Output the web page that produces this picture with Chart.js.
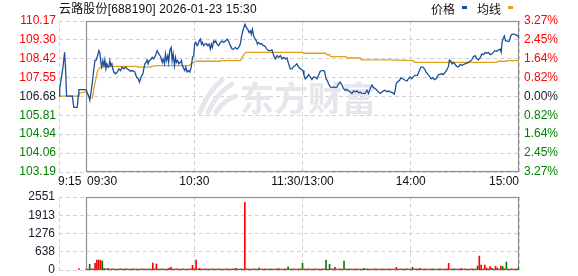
<!DOCTYPE html>
<html><head><meta charset="utf-8">
<script src="https://cdn.jsdelivr.net/npm/chart.js@4.4.1/dist/chart.umd.min.js"></script>
<style>
html,body{margin:0;padding:0;background:#fff;width:578px;height:276px;overflow:hidden;}
#wrap{position:relative;width:578px;height:276px;overflow:hidden;}
canvas{position:absolute;left:0;}
.t{position:absolute;font-size:12px;line-height:14px;color:#111;white-space:nowrap;font-family:"Liberation Sans","Noto Sans CJK SC",sans-serif;}
.mk{position:absolute;width:5px;height:3px;}
</style></head>
<body>
<div id="wrap">
<canvas id="vol" width="578" height="106" style="top:180px"></canvas>
<canvas id="price" width="578" height="190" style="top:0"></canvas>
<div class="t" id="title" style="left:59px;top:2px;letter-spacing:0.17px;"></div>
<div class="t" id="lg1" style="left:431px;top:3px;"></div>
<div class="mk" id="mk1" style="left:462px;top:6px;"></div>
<div class="t" id="lg2" style="left:477px;top:3px;"></div>
<div class="mk" id="mk2" style="left:508px;top:6px;"></div>
</div>
<script>
// ---------- data ----------
const stockName = "云路股份";
const stockCode = "688190";
const stampText = "2026-01-23 15:30";
const seriesNames = ["价格", "均线"];
const prevClose = 106.68;
const sessionStart = 0, sessionEnd = 240, preStart = -15;   // minutes from 09:30
const timeTicks = [-15, 0, 60, 120, 180, 240];
const timeLabels = ["9:15", "09:30", "10:30", "11:30/13:00", "14:00", "15:00"];
const priceTicks = [103.19, 104.06, 104.94, 105.81, 106.68, 107.55, 108.42, 109.30, 110.17];
const pctLabels = ["3.27%", "2.45%", "1.64%", "0.82%", "0.00%", "0.82%", "1.64%", "2.45%", "3.27%"];
const volTicks = [0, 638, 1276, 1913, 2551];

const priceTimes = [-15,-14.6,-12.8,-11.9,-11.4,-10.8,-7.6,-6.8,-4.9,-4.3,-4.0,
0,0.8,1.6,2.1,2.9,3.4,4.0,4.9,5.6,6.4,7.1,7.6,8.2,8.7,9.3,9.9,10.4,11.0,11.5,12.1,12.6,13.2,13.7,14.3,14.8,15.4,16.3,17.3,18.2,19.1,
20.0,20.9,21.9,22.8,23.7,24.6,25.6,27.0,28.0,28.9,29.6,30.2,30.7,31.5,32.0,32.6,33.3,33.9,34.4,35.0,35.7,36.7,37.5,38.5,39.4,40.3,
41.3,42.2,42.7,43.5,44.0,44.6,45.3,45.8,46.4,47.2,47.7,48.3,49.0,49.6,50.1,50.8,51.4,52.3,52.9,53.4,54.2,54.7,55.3,56.0,56.8,57.5,58.3,59.0,59.7,
60.2,60.8,61.6,62.1,62.7,63.4,64.0,64.5,65.2,66.0,66.7,67.4,68.2,68.9,69.5,70.0,70.8,71.3,71.9,72.6,73.5,74.5,75.4,76.3,77.2,78.2,79.1,
80.0,81.0,81.8,82.8,83.7,84.6,85.5,86.1,86.7,87.4,88.1,88.9,89.6,90.4,91.1,91.6,92.2,92.9,93.7,94.4,95.0,95.7,96.6,97.3,98.1,98.8,99.6,
100.3,101.1,102.2,103.1,104.0,104.9,105.9,106.8,107.7,108.6,109.5,110.5,111.4,112.3,113.2,114.2,115.1,116.0,116.9,117.8,118.8,119.7,
120.3,120.8,121.5,122.5,123.4,124.3,125.2,126.1,127.1,128.0,128.9,129.8,130.8,131.7,132.2,133.0,133.7,134.4,135.4,136.3,137.2,138.2,139.1,
140.0,140.9,141.9,142.7,143.7,144.6,145.5,146.5,147.4,148.3,149.2,150.2,151.1,152.0,152.9,153.8,154.7,155.7,156.6,157.5,158.5,159.4,
160.3,161.2,162.1,163.1,164.0,164.9,165.8,166.8,167.7,168.6,170.1,170.8,171.4,171.9,172.6,173.8,174.5,175.6,176.9,177.9,178.7,179.7,
180.6,181.5,182.4,183.7,184.8,185.6,186.7,187.6,188.5,189.5,190.4,191.3,192.2,193.1,194.1,194.8,195.6,196.3,197.2,198.1,199.1,
200.0,200.9,201.4,202.2,202.9,203.7,204.6,205.5,206.4,207.4,208.3,209.2,210.1,211.1,212.0,212.9,213.8,214.7,215.7,216.6,217.5,218.4,219.4,
220.3,221.2,222.1,223.0,224.0,224.9,225.8,226.7,227.7,228.6,229.5,230.1,230.6,231.4,231.9,232.5,233.2,234.1,234.7,235.4,236.2,237.3,238.3,239.3,240.0];
const priceValues = [106.70,107.05,108.04,108.72,108.04,106.70,106.70,106.18,106.18,106.70,107.00,
107.00,106.82,106.67,106.51,106.97,107.27,107.73,108.34,108.37,108.57,108.80,108.72,108.26,108.04,108.34,108.11,108.37,107.96,108.19,108.04,108.04,108.34,108.11,108.19,107.96,107.81,107.73,107.81,107.96,107.88,
108.04,107.96,108.04,107.96,107.91,107.85,107.88,107.81,107.58,107.50,107.35,107.50,107.61,107.73,107.96,108.19,108.26,108.37,108.19,108.34,108.37,108.49,108.42,108.57,108.80,108.65,
108.53,108.26,108.42,108.19,108.65,108.34,108.57,108.26,108.80,108.95,108.34,108.65,108.11,108.49,108.26,108.34,108.19,108.26,108.34,108.11,107.96,107.88,108.04,107.81,107.88,107.81,108.04,108.49,108.57,
109.10,109.18,109.03,109.10,109.25,109.33,109.10,109.18,109.03,109.10,109.13,109.03,109.10,108.87,109.10,108.95,109.25,109.18,109.25,109.10,109.03,109.18,109.25,109.18,109.25,109.33,109.22,
109.03,108.87,108.87,108.95,108.87,108.95,109.10,109.41,109.64,109.86,110.02,109.86,109.79,109.64,109.71,109.56,109.79,109.48,109.33,109.25,109.10,109.18,109.10,109.13,109.03,109.03,108.95,
108.87,108.80,108.80,108.83,108.57,108.42,108.57,108.49,108.57,108.42,108.49,108.42,108.46,108.19,107.96,107.96,108.07,108.11,108.19,108.04,107.96,107.91,
107.88,107.66,107.50,107.58,107.70,107.58,107.46,107.58,107.58,107.50,107.66,107.85,107.88,107.88,107.85,107.50,107.43,107.27,107.12,107.09,107.12,107.09,107.12,
107.27,107.35,107.20,107.05,106.97,107.00,106.94,106.89,106.82,106.94,106.89,106.94,106.85,106.89,106.82,106.82,106.82,106.97,106.82,107.05,107.20,107.09,
107.05,106.97,106.89,106.82,106.89,106.94,106.97,106.89,106.94,106.89,106.85,106.79,106.97,107.27,107.35,107.43,107.54,107.50,107.43,107.40,107.50,107.58,
107.50,107.61,107.66,107.66,107.88,108.04,108.04,107.96,107.81,107.70,107.61,107.50,107.55,107.46,107.50,107.61,107.70,107.70,107.73,107.70,107.81,
107.91,108.07,108.37,108.31,108.19,108.26,108.16,108.07,108.04,108.16,108.11,108.16,108.19,108.22,108.26,108.31,108.37,108.52,108.57,108.42,108.37,108.46,108.65,
108.61,108.72,108.68,108.72,108.61,108.65,108.72,108.80,108.77,108.83,108.87,108.72,109.18,109.41,109.48,109.25,109.25,109.22,109.25,109.48,109.56,109.56,109.53,109.48,109.41];

const avgTimes = [-15,-4.7,-4.0,0,1.0,2.0,3.5,4.3,5.3,6.2,7.1,8.0,9.0,28.3,28.8,35.7,36.2,39.0,57.0,59.5,61.0,74.5,75.0,85.5,87.4,88.5,
120.0,120.5,133.0,133.5,135.0,135.5,144.0,144.5,152.0,152.5,168.6,181.5,182.0,227.7,228.2,233.0,233.5,240.0];
const avgValues = [106.70,106.70,106.82,106.90,106.80,106.62,106.62,107.05,107.43,107.81,107.96,108.04,108.07,108.07,108.04,108.04,108.07,108.11,108.11,108.26,108.31,108.31,108.34,108.34,108.61,108.72,
108.72,108.68,108.68,108.61,108.61,108.52,108.52,108.46,108.46,108.37,108.37,108.34,108.26,108.26,108.31,108.31,108.34,108.34];

// pre-market auction volume
const preVolTimes = [-4];
const preVolValues = [50];
const preVolSides = "r";
// one value per minute, 09:30 .. 15:00 (index = minutes from 09:30)
const volValues = [
30,35,198,40,35,232,348,348,337,313,58,30,58,35,30,40,35,30,35,40,
35,30,40,35,30,35,40,30,35,30,35,40,30,35,30,40,35,244,40,209,
35,30,40,35,30,35,58,93,35,30,40,35,30,35,40,30,35,30,40,162,
40,348,35,58,30,35,40,30,35,30,40,35,30,35,40,30,35,30,40,35,
30,35,40,58,35,30,40,35,2366,40,35,30,35,40,30,35,70,30,35,40,
35,30,40,35,30,35,40,50,35,30,40,35,110,30,35,40,30,35,40,35,
232,35,30,40,35,30,35,40,30,35,30,40,35,348,30,197,40,35,93,30,
35,40,30,313,35,30,40,35,30,35,40,30,35,30,58,35,40,30,35,30,
40,35,30,35,40,30,35,30,40,35,30,35,93,30,35,40,30,35,40,35,
30,93,35,40,30,58,35,30,40,35,30,35,40,30,35,30,40,35,30,35,
40,232,30,35,40,30,35,30,58,35,40,30,35,30,40,35,30,139,487,174,
30,174,70,35,116,58,30,128,70,35,139,116,40,278,30,35,40,30,35,40,116];
// r = up minute, g = down minute
const volSides =
"rrgrrrrrrggrrgrrgrrg" + "rrgrrrgrrrrgrrrgrrrr" + "rgrrrgrrrgrrrrgrrrrr" + "rrrrgrrrgrrrgrrrrgrr" +
"rrrgrrgrrrrgrrrrgrrr" + "rrgrrrrgrrrrgrrgrrrr" + "grrrgrrrrgrrrgrgrrrr" + "rrrgrrrgrrrrgrgrrrgr" +
"rrgrrrrgrrrrrrgrrrgr" + "rgrrrrrgrrrrgrrrrgrr" + "rrrrgrrrrrrgrrrrrgrr" + "rrrrrgrrrrrgrgrrrrrrg";

// ---------- styles ----------
const UP = '#ff0000', DOWN = '#008000', FLAT = '#1a1a2a';
const PRICE_COLOR = '#1b4f9c', AVG_COLOR = '#e0a11e';
const GRID = '#d2d2d2', BOX = '#8f8f8f';
const FONT = {family: '"Liberation Sans", Arial, sans-serif', size: 12};

document.getElementById('title').textContent = stockName + '[' + stockCode + '] ' + stampText;
document.getElementById('lg1').textContent = seriesNames[0];
document.getElementById('lg2').textContent = seriesNames[1];
document.getElementById('mk1').style.background = PRICE_COLOR;
document.getElementById('mk2').style.background = AVG_COLOR;

const priceData = priceTimes.map((t, i) => ({x: t, y: priceValues[i]}));
const avgData = avgTimes.map((t, i) => ({x: t, y: avgValues[i]}));
const volData = [], volColors = [];
preVolTimes.forEach((t, i) => { volData.push({x: t, y: preVolValues[i]}); volColors.push(preVolSides[i] === 'r' ? UP : DOWN); });
volValues.forEach((v, i) => { volData.push({x: sessionStart + i, y: v}); volColors.push(volSides[i] === 'r' ? UP : DOWN); });

const boxPlugin = {
  id: 'box',
  beforeDatasetsDraw(chart) {
    const {ctx, chartArea: {top, bottom}, scales: {x}} = chart;
    const l = Math.round(x.getPixelForValue(sessionStart)) + 0.5;
    const r = Math.round(x.getPixelForValue(sessionEnd)) - 0.5;
    ctx.save();
    ctx.setLineDash([]);
    ctx.strokeStyle = BOX; ctx.lineWidth = 1.2;
    ctx.strokeRect(l, Math.round(top) + 0.5, r - l, Math.round(bottom) - Math.round(top) - 1);
    ctx.restore();
  }
};

const watermarkPlugin = {
  id: 'wm',
  beforeDatasetsDraw(chart) {
    const ctx = chart.ctx;
    ctx.save();
    ctx.fillStyle = '#e6e6ec';
    ctx.strokeStyle = '#e6e6ec';
    ctx.lineCap = 'round';
    ctx.lineWidth = 5;
    const curves = [[200, 112, 208, 92, 222, 80], [208, 112, 216, 94, 232, 84], [216, 112, 224, 100, 236, 96]];
    curves.forEach(c => { ctx.beginPath(); ctx.moveTo(c[0], c[1]); ctx.quadraticCurveTo(c[2], c[3], c[4], c[5]); ctx.stroke(); });
    ctx.font = 'bold 34px "Noto Sans CJK SC"';
    ctx.textBaseline = 'middle';
    ctx.textAlign = 'left';
    ctx.fillText('东方财富', 240, 98);
    ctx.restore();
  }
};

const timeLabelPlugin = {
  id: 'timeLabels',
  afterDraw(chart) {
    const {ctx, chartArea: {bottom}, scales: {x}} = chart;
    ctx.save();
    ctx.font = '12px "Liberation Sans", Arial, sans-serif';
    ctx.fillStyle = '#111';
    ctx.textBaseline = 'middle';
    timeTicks.forEach((t, i) => {
      let px = x.getPixelForValue(t);
      if (i === 0) { ctx.textAlign = 'left'; px -= 1; }
      else if (i === 1) { ctx.textAlign = 'left'; px += 1; }
      else if (i === timeTicks.length - 1) { ctx.textAlign = 'right'; }
      else { ctx.textAlign = 'center'; }
      ctx.fillText(timeLabels[i], px, bottom + 10);
    });
    ctx.restore();
  }
};

const tickColor = c => {
  const v = priceTicks[c.index];
  if (v === undefined) return FLAT;
  return v > prevClose ? UP : (v < prevClose ? DOWN : FLAT);
};

new Chart(document.getElementById('price'), {
  type: 'line',
  data: {datasets: [
    {label: seriesNames[0], data: priceData, borderColor: PRICE_COLOR, borderWidth: 1.3, pointRadius: 0, tension: 0, yAxisID: 'y'},
    {label: seriesNames[1], data: avgData, borderColor: AVG_COLOR, borderWidth: 1.3, pointRadius: 0, tension: 0, yAxisID: 'y'}
  ]},
  options: {
    responsive: false, animation: false, events: [],
    layout: {padding: {left: 0, right: 0, top: 21, bottom: 18}},
    plugins: {legend: {display: false}, tooltip: {enabled: false}},
    scales: {
      x: {type: 'linear', min: preStart, max: sessionEnd,
          afterBuildTicks: s => { s.ticks = timeTicks.map(v => ({value: v})); },
          ticks: {display: false, autoSkip: false},
          grid: {color: GRID, drawTicks: false, lineWidth: 1},
          border: {display: false, dash: [4, 3]},
          afterFit: s => { s.height = 0; }},
      y: {position: 'left', min: priceTicks[0], max: priceTicks[priceTicks.length - 1],
          afterBuildTicks: s => { s.ticks = priceTicks.map(v => ({value: v})); },
          ticks: {callback: (v, i) => priceTicks[i].toFixed(2), color: tickColor, font: FONT, padding: 3, autoSkip: false},
          grid: {color: GRID, drawTicks: false, lineWidth: 1},
          border: {display: false, dash: [4, 3]},
          afterFit: s => { s.width = 59; }},
      yR: {position: 'right', min: priceTicks[0], max: priceTicks[priceTicks.length - 1],
          afterBuildTicks: s => { s.ticks = priceTicks.map(v => ({value: v})); },
          ticks: {callback: (v, i) => pctLabels[i], color: tickColor, font: FONT, padding: 5, autoSkip: false},
          grid: {display: false, drawTicks: false},
          border: {display: false},
          afterFit: s => { s.width = 59; }}
    }
  },
  plugins: [watermarkPlugin, boxPlugin, timeLabelPlugin]
});

new Chart(document.getElementById('vol'), {
  type: 'bar',
  data: {datasets: [{data: volData, backgroundColor: volColors, borderWidth: 0, barThickness: 1}]},
  options: {
    responsive: false, animation: false, events: [],
    layout: {padding: {left: 0, right: 59, top: 17, bottom: 16}},
    plugins: {legend: {display: false}, tooltip: {enabled: false}},
    scales: {
      x: {type: 'linear', min: preStart, max: sessionEnd, offset: false,
          afterBuildTicks: s => { s.ticks = timeTicks.map(v => ({value: v})); },
          ticks: {display: false, autoSkip: false},
          grid: {color: GRID, drawTicks: false, lineWidth: 1, offset: false},
          border: {display: false, dash: [4, 3]},
          afterFit: s => { s.height = 0; }},
      y: {position: 'left', min: volTicks[0], max: volTicks[volTicks.length - 1],
          afterBuildTicks: s => { s.ticks = volTicks.map(v => ({value: v})); },
          ticks: {callback: (v, i) => String(volTicks[i]), color: FLAT, font: FONT, padding: 4, autoSkip: false},
          grid: {color: GRID, drawTicks: false, lineWidth: 1},
          border: {display: false, dash: [4, 3]},
          afterFit: s => { s.width = 59; }}
    }
  },
  plugins: [boxPlugin]
});
</script>
</body></html>
